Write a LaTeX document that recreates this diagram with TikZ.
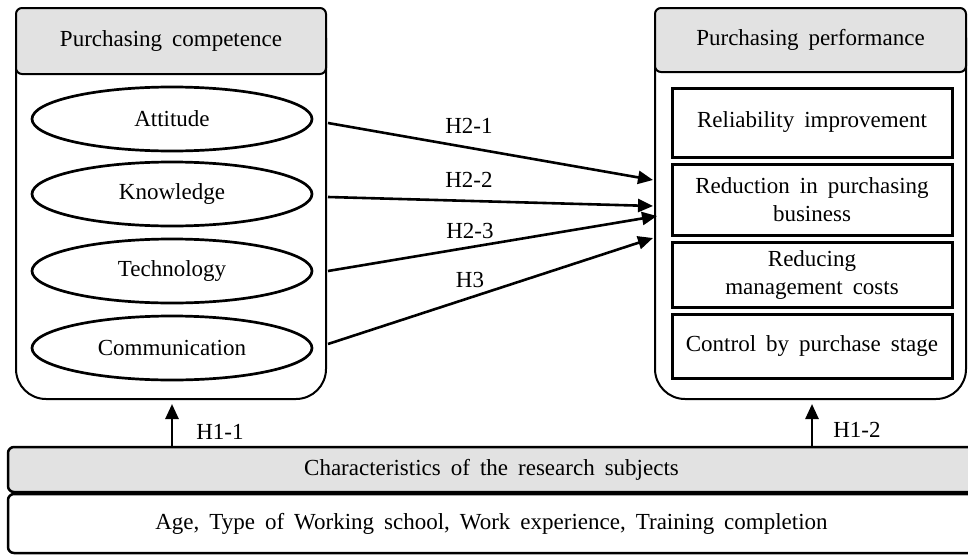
\documentclass[tikz,border=0pt]{standalone}
\usepackage{fontspec}
\setmainfont{Liberation Serif}
\usetikzlibrary{arrows.meta,shapes.geometric,calc}
\definecolor{hdrgray}{RGB}{226,226,226}
\newcommand\dfont{\fontsize{23}{28}\selectfont\spaceskip=10pt plus 2pt minus 1pt\relax}
\begin{document}
\begin{tikzpicture}[x=1pt,y=-1pt,
  every node/.style={font=\dfont},
  body/.style={draw, line width=2pt, rounded corners=30pt, minimum height=391pt, inner sep=0pt},
  hdr/.style={draw, line width=2pt, fill=hdrgray, rounded corners=6pt, inner sep=0pt},
  oval/.style={draw, ellipse, line width=2.7pt, minimum width=280pt, minimum height=64pt, inner sep=0pt},
  pbox/.style={draw, line width=3pt, minimum width=280pt, inner sep=0pt, align=center},
  arr/.style={line width=2.6pt, -{Triangle[length=15pt,width=13pt]}},
  lbl/.style={inner sep=0pt},
  bar/.style={draw, line width=2.5pt, rounded corners=6pt, minimum width=967pt, inner sep=0pt}]
\clip (0,0) rectangle (968,554);
% left container
\node[body, minimum width=310pt] (lbody) at (171,203.5) {};
\node[hdr, minimum width=310pt, minimum height=66pt] (lhdr) at (171,41) {Purchasing competence};
\node[oval] (att) at (172,119) {Attitude};
\node[oval] (kno) at (172,194) {Knowledge};
\node[oval] (tec) at (172,271) {Technology};
\node[oval] (com) at (172,348) {Communication};
% right container
\node[body, minimum width=311pt] (rbody) at (810.5,203.5) {};
\node[hdr, minimum width=311pt, minimum height=64pt] (rhdr) at (810.5,40) {Purchasing performance};
\node[pbox, minimum height=69pt] (rb1) at (812,122.5) {Reliability improvement};
\node[pbox, minimum height=71pt] (rb2) at (812,199.5) {Reduction in purchasing\\business};
\node[pbox, minimum height=65pt] (rb3) at (812,274.5) {Reducing\\management costs};
\node[pbox, minimum height=64pt] (rb4) at (812,346) {Control by purchase stage};
% bottom bars
\node[bar, fill=hdrgray, minimum height=45pt] (gbar) at (491.5,469.5) {Characteristics of the research subjects};
\node[bar, minimum height=59pt] (wbar) at (491.5,523.5) {Age, Type of Working school, Work experience, Training completion};
% H2 arrows
\coordinate (s1) at ($(lbody.east |- att)+(1,4)$);
\coordinate (s2) at ($(lbody.east |- kno)+(1,3)$);
\coordinate (s3) at ($(lbody.east |- tec)+(1,0)$);
\coordinate (s4) at ($(lbody.east |- com)+(1,-4)$);
\coordinate (t1) at ($(rbody.west)+(-1,-23.5)$);
\coordinate (t2) at ($(rbody.west)+(-1,2.5)$);
\coordinate (t3) at ($(rbody.west)+(3,12.5)$);
\coordinate (t4) at ($(rbody.west)+(-1,34.5)$);
\draw[arr] (s1) -- (t1);
\draw[arr] (s2) -- (t2);
\draw[arr] (s3) -- (t3);
\draw[arr] (s4) -- (t4);
\node[lbl] (h21) at (469,126) {H2-1};
\node[lbl] (h22) at (469,180) {H2-2};
\node[lbl] (h23) at (470,231) {H2-3};
\node[lbl] (h3) at (470,280) {H3};
% H1 arrows
\draw[arr] (att |- gbar.north) -- ($(att |- lbody.south)+(0,4)$);
\draw[arr] (rb4 |- gbar.north) -- ($(rb4 |- rbody.south)+(0,4)$);
\node[lbl] (h11) at (220,432) {H1-1};
\node[lbl] (h12) at (857,430) {H1-2};
\end{tikzpicture}
\end{document}
